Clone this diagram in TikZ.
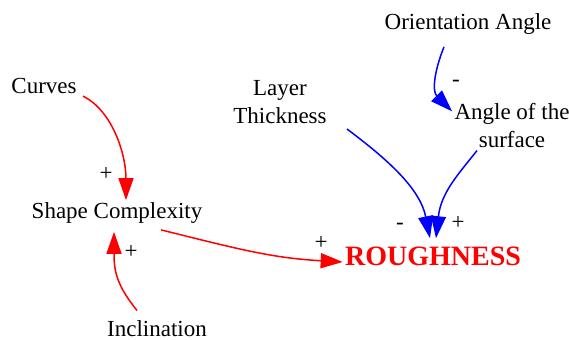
\documentclass[tikz,border=0pt]{standalone}
\usepackage{fontspec}
\setmainfont{Liberation Serif}
\usetikzlibrary{arrows.meta}

\begin{document}
\begin{tikzpicture}[x=0.5pt,y=-0.5pt,
    every node/.style={font=\rmfamily\fontsize{11.5}{14}\selectfont, inner sep=1pt, align=center},
    poslink/.style={red, line width=0.75pt, -{Triangle[length=11pt,width=7.5pt]}},
    neglink/.style={blue, line width=0.75pt, -{Triangle[length=11pt,width=7.5pt]}},
    sign/.style={inner sep=0pt}]
    \useasboundingbox (0,0) rectangle (569,340);

    % Variables
    \node (curves) at (44,86) {Curves};
    \node (shape) at (117,213) {Shape Complexity};
    \node (incl) at (157,329) {Inclination};
    \node (layer) at (280,102) {Layer\\Thickness};
    \node (orient) at (468,24) {Orientation Angle};
    \node (angle) at (512,126) {Angle of the\\surface};
    \node[text=red, font=\rmfamily\bfseries\fontsize{14}{16}\selectfont] (rough) at (433,256) {ROUGHNESS};

    % Enlaces positivos
    \draw[poslink] ([xshift=2pt]curves.south east) .. controls +(30,15) and +(0,-45) .. ([xshift=4.5pt]shape.north);
    \draw[poslink] ([xshift=-10pt,yshift=4pt]incl.north) .. controls +(-20,-25) and +(0,40) .. ([xshift=-1.5pt,yshift=-3pt]shape.south);
    \draw[poslink] ([xshift=22pt,yshift=-2pt]shape.south) .. controls +(80,20) and +(-70,-4) .. ([yshift=-3pt]rough.west);

    % Enlaces de angulo y espesor
    \draw[neglink] ([xshift=9pt,yshift=-1.5pt]layer.south east) .. controls +(40,30) and +(-10,-50) .. ([xshift=-1.5pt,yshift=3pt]rough.north);
    \draw[neglink] ([xshift=-17.5pt]angle.south) .. controls +(-20,25) and +(5,-45) .. ([xshift=1.5pt,yshift=3pt]rough.north);
    \draw[neglink] ([xshift=-12pt,yshift=-5pt]orient.south) .. controls +(-10,25) and +(-20,-20) .. ([yshift=-5pt]angle.north west);

    % Signos
    \node[sign] (s1) at (106,174) {+};
    \node[sign] (s2) at (131,252) {+};
    \node[sign] (s3) at (321,243) {+};
    \node[sign] (s4) at (400,226) {-};
    \node[sign] (s5) at (458,223) {+};
    \node[sign] (s6) at (456,83) {-};
\end{tikzpicture}
\end{document}
